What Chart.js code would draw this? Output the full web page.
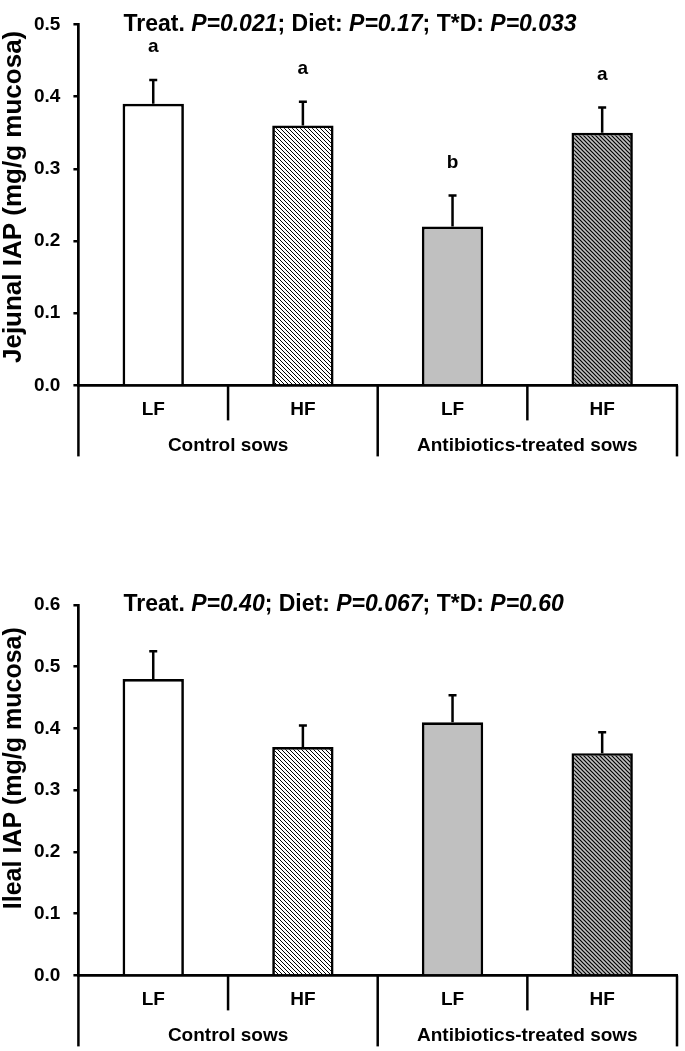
<!DOCTYPE html>
<html>
<head>
<meta charset="utf-8">
<script src="https://cdn.jsdelivr.net/npm/chart.js"></script>
<style>
  body { margin: 0; background: #fff; }
  #wrap { position: relative; width: 685px; height: 1051px; }
  .box { position: absolute; left: 0; width: 685px; }
</style>
</head>
<body>
<div id="wrap">
  <div class="box" style="top:0;height:470px"><canvas id="jejunum"></canvas></div>
  <div class="box" style="top:580px;height:471px"><canvas id="ileum"></canvas></div>
</div>
<script>
// ---- data ----
var dietLabels  = ["LF", "HF", "LF", "HF"];
var sowGroups   = ["Control sows", "Antibiotics-treated sows"];

var jejunalMean    = [0.39, 0.36, 0.22, 0.35];
var jejunalSE      = [0.033, 0.033, 0.043, 0.035];
var jejunalLetters = ["a", "a", "b", "a"];
var jejunalTicks   = { max: 0.5, step: 0.1 };
var jejunalTitle   = [["Treat. ", false], ["P=0.021", true], ["; Diet: ", false], ["P=0.17", true], ["; T*D: ", false], ["P=0.033", true]];

var ilealMean    = [0.48, 0.37, 0.41, 0.36];
var ilealSE      = [0.045, 0.035, 0.044, 0.034];
var ilealLetters = ["", "", "", ""];
var ilealTicks   = { max: 0.6, step: 0.1 };
var ilealTitle   = [["Treat. ", false], ["P=0.40", true], ["; Diet: ", false], ["P=0.067", true], ["; T*D: ", false], ["P=0.60", true]];

var FONT = "'Liberation Sans', Arial, sans-serif";
var GREY = "#c0c0c0";
Chart.defaults.font.family = FONT;
Chart.defaults.color = "#000";

/*
* hatch pattern, lines running top-left to bottom-right
*/
function makeHatch(bg, size, width) {
    var c = document.createElement("canvas");
    c.width = size; c.height = size;
    var g = c.getContext("2d");
    g.fillStyle = bg;
    g.fillRect(0, 0, size, size);
    g.strokeStyle = "#000";
    g.lineWidth = width;
    g.beginPath();
    g.moveTo(-1, -1);        g.lineTo(size + 1, size + 1);
    g.moveTo(-1, size - 1);  g.lineTo(1, size + 1);
    g.moveTo(size - 1, -1);  g.lineTo(size + 1, 1);
    g.stroke();
    return g.createPattern(c, "repeat");
}

/*
* error bars, letters, two-level category separators, P-value header, y title
*/
var sowPlugin = {
    id: "sowPlugin",
    afterDatasetsDraw: function(chart, args, opts) {
        var ctx  = chart.ctx;
        var xs   = chart.scales.x;
        var ys   = chart.scales.y;
        var meta = chart.getDatasetMeta(0);
        var vals = chart.data.datasets[0].data;
        var area = chart.chartArea;

        ctx.save();
        ctx.strokeStyle = "#000";
        ctx.fillStyle   = "#000";
        ctx.lineWidth   = 2.5;

        meta.data.forEach(function(bar, i) {
            var top = ys.getPixelForValue(vals[i] + opts.se[i]);
            ctx.beginPath();
            ctx.moveTo(bar.x, bar.y);
            ctx.lineTo(bar.x, top);
            ctx.moveTo(bar.x - 4, top);
            ctx.lineTo(bar.x + 4, top);
            ctx.stroke();
            if (opts.letters[i]) {
                ctx.font = "bold 19px " + FONT;
                ctx.textAlign = "center";
                ctx.textBaseline = "middle";
                ctx.fillText(opts.letters[i], bar.x, top - 33);
            }
        });

        // separators below the axis
        var base = ys.getPixelForValue(0);
        var half = (xs.getPixelForValue(1) - xs.getPixelForValue(0)) / 2;
        for (var i = 0; i <= vals.length; i++) {
            var px  = xs.getPixelForValue(Math.min(i, vals.length - 1)) + (i < vals.length ? -half : half);
            var len = (i % 2 == 0) ? 71 : 35;
            ctx.beginPath();
            ctx.moveTo(px, base);
            ctx.lineTo(px, base + len);
            ctx.stroke();
        }

        // header with italic P values
        var tx = area.left + 45;
        var ty = area.top;
        ctx.textAlign = "left";
        ctx.textBaseline = "middle";
        opts.title.forEach(function(seg) {
            ctx.font = (seg[1] ? "italic " : "") + "bold 23px " + FONT;
            ctx.fillText(seg[0], tx, ty);
            tx += ctx.measureText(seg[0]).width;
        });

        // rotated y axis title
        ctx.translate(14, (area.top + area.bottom) / 2 + opts.yTitleShift);
        ctx.rotate(-Math.PI / 2);
        ctx.textAlign = "center";
        ctx.font = "bold " + opts.yTitleSize + "px " + FONT;
        ctx.fillText(opts.yTitle, 0, 0);
        ctx.restore();
    }
};

function sowChart(id, yTitle, yTitleSize, yTitleShift, mean, se, letters, ticks, title, pad) {
    var tickFont = { family: FONT, size: 19, weight: "bold" };
    var fills = [ "#ffffff", makeHatch("#ffffff", 4, 1.0), GREY, makeHatch(GREY, 4, 1.2) ];

    return new Chart(document.getElementById(id), {
        type: "bar",
        data: {
            labels: dietLabels,
            datasets: [{
                data: mean,
                backgroundColor: fills,
                borderColor: "#000",
                borderWidth: 2.7,
                barPercentage: 0.41,
                categoryPercentage: 1.0
            }]
        },
        options: {
            responsive: true,
            maintainAspectRatio: false,
            animation: false,
            layout: { padding: pad },
            plugins: {
                legend:  { display: false },
                tooltip: { enabled: false },
                sowPlugin: { se: se, letters: letters, title: title, yTitle: yTitle,
                             yTitleSize: yTitleSize, yTitleShift: yTitleShift }
            },
            scales: {
                x: {
                    type: "category",
                    offset: true,
                    grid:   { display: false, drawTicks: false },
                    border: { display: true, color: "#000", width: 2.7 },
                    ticks:  { font: tickFont, color: "#000", padding: 13, maxRotation: 0 }
                },
                x2: {
                    type: "category",
                    position: "bottom",
                    labels: sowGroups,
                    offset: true,
                    grid:   { display: false, drawTicks: false },
                    border: { display: false },
                    ticks:  { font: tickFont, color: "#000", padding: 0, maxRotation: 0 }
                },
                y: {
                    min: 0,
                    max: ticks.max,
                    grid:   { drawOnChartArea: false, color: "#000", lineWidth: 2.5, tickLength: 5 },
                    border: { color: "#000", width: 2.7 },
                    ticks:  {
                        stepSize: ticks.step,
                        font: tickFont,
                        color: "#000",
                        padding: 13,
                        callback: function(v) { return v.toFixed(1); }
                    }
                }
            }
        },
        plugins: [sowPlugin]
    });
}

sowChart("jejunum", "Jejunal IAP (mg/g mucosa)", 26, -8, jejunalMean, jejunalSE, jejunalLetters, jejunalTicks, jejunalTitle,
         { top: 16, right: 8, bottom: 13, left: 21 });
sowChart("ileum", "Ileal IAP (mg/g mucosa)", 25, -22, ilealMean, ilealSE, ilealLetters, ilealTicks, ilealTitle,
         { top: 25, right: 8, bottom: 4, left: 21 });
</script>
</body>
</html>
